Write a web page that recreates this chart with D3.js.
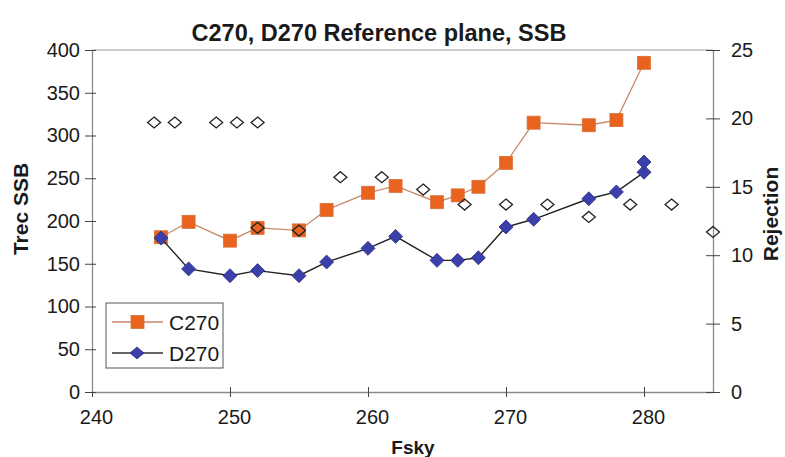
<!DOCTYPE html>
<html>
<head>
<meta charset="utf-8">
<script src="https://cdn.jsdelivr.net/npm/d3@7"></script>
<style>
  html, body { margin: 0; padding: 0; background: #fff; }
  svg { display: block; font-family: "Liberation Sans", Arial, sans-serif; }
</style>
</head>
<body>
<svg id="chart" width="785" height="457"></svg>
<script>
// Receiver noise temperature (SSB) versus sky frequency, two units
const c270Freq = [245, 247, 250, 252, 255, 257, 260, 262, 265, 266.5, 268, 270, 272, 276, 278, 280];
const c270Trec = [181, 199, 177, 192, 189, 213, 233, 241, 222, 230, 240, 268, 315, 312, 318, 385];

const d270Freq = [245, 247, 250, 252, 255, 257, 260, 262, 265, 266.5, 268, 270, 272, 276, 278, 280, 280];
const d270Trec = [180, 144, 136, 142, 136, 152, 168, 182, 154, 154, 157, 193, 202, 226, 234, 257, 269];

// Sideband rejection (dB), right axis
const rejFreq = [244.5, 246, 249, 250.5, 252, 252, 255, 258, 261, 264, 267, 270, 273, 276, 279, 282, 285];
const rejValue = [19.7, 19.7, 19.7, 19.7, 19.7, 12.0, 11.8, 15.7, 15.7, 14.8, 13.7, 13.7, 13.7, 12.8, 13.7, 13.7, 11.7];

const xTicks = [240, 250, 260, 270, 280];
const yLeftTicks = [0, 50, 100, 150, 200, 250, 300, 350, 400];
const yRightTicks = [0, 5, 10, 15, 20, 25];

const svg = d3.select("#chart");
const plotLeft = 92, plotRight = 713, plotTop = 50, plotBottom = 392;

const x = d3.scaleLinear().domain([240, 285]).range([plotLeft, plotRight]);
const yL = d3.scaleLinear().domain([0, 400]).range([plotBottom, plotTop]);
const yR = d3.scaleLinear().domain([0, 25]).range([plotBottom, plotTop]);

const axisColor = "#8a8a8a";
const textColor = "#1a1a1a";
const tickFont = 20;

// top frame line
svg.append("line")
  .attr("x1", plotLeft).attr("x2", plotRight).attr("y1", plotTop).attr("y2", plotTop)
  .attr("stroke", "#9a9a9a").attr("stroke-width", 1.2);

function styleAxis(g) {
  g.select(".domain").attr("stroke", axisColor).attr("stroke-width", 1.3);
  g.selectAll(".tick line").attr("stroke", "#444").attr("stroke-width", 1);
  g.selectAll(".tick text").attr("fill", textColor).attr("font-size", tickFont);
}

// bottom axis, ticks crossing the line
const gx = svg.append("g").attr("transform", `translate(0,${plotBottom})`)
  .call(d3.axisBottom(x).tickValues(xTicks).tickSizeOuter(0).tickSizeInner(5).tickPadding(13));
styleAxis(gx);
gx.selectAll(".tick line").attr("y1", -5);
gx.selectAll(".tick text").attr("dx", 4);

const gl = svg.append("g").attr("transform", `translate(${plotLeft},0)`)
  .call(d3.axisLeft(yL).tickValues(yLeftTicks).tickSizeOuter(0).tickSizeInner(7).tickPadding(5));
styleAxis(gl);
gl.selectAll(".tick line").attr("x2", 4).attr("x1", -7);

const gr = svg.append("g").attr("transform", `translate(${plotRight},0)`)
  .call(d3.axisRight(yR).tickValues(yRightTicks).tickSizeOuter(0).tickSizeInner(7).tickPadding(11));
styleAxis(gr);
gr.selectAll(".tick line").attr("x1", -7).attr("x2", 7);

// titles
svg.append("text").attr("x", 379).attr("y", 41).attr("text-anchor", "middle")
  .attr("font-size", 23.5).attr("font-weight", "bold").attr("fill", textColor)
  .text("C270, D270 Reference plane, SSB");
svg.append("text").attr("x", 413).attr("y", 454).attr("text-anchor", "middle")
  .attr("font-size", 19).attr("font-weight", "bold").attr("fill", textColor)
  .text("Fsky");
svg.append("text").attr("transform", "translate(28,209) rotate(-90)")
  .attr("text-anchor", "middle").attr("font-size", 21).attr("font-weight", "bold").attr("fill", textColor)
  .text("Trec SSB");
svg.append("text").attr("transform", "translate(778,214) rotate(-90)")
  .attr("text-anchor", "middle").attr("font-size", 21).attr("font-weight", "bold").attr("fill", textColor)
  .text("Rejection");

const c270 = c270Freq.map((f, i) => [f, c270Trec[i]]);
const d270 = d270Freq.map((f, i) => [f, d270Trec[i]]);
const rej = rejFreq.map((f, i) => [f, rejValue[i]]);

const lineL = d3.line().x(d => x(d[0])).y(d => yL(d[1]));

const orange = "#e8641e";
const blue = "#3b3faa";
const diamond = (w, h) => `M0,${-h} L${w},0 L0,${h} L${-w},0 Z`;

// C270 series
svg.append("path").datum(c270).attr("d", lineL)
  .attr("fill", "none").attr("stroke", "#c98a6a").attr("stroke-width", 1.3);
svg.append("g").selectAll("rect").data(c270).join("rect")
  .attr("x", d => x(d[0]) - 6.5).attr("y", d => yL(d[1]) - 6.5)
  .attr("width", 13).attr("height", 13)
  .attr("fill", orange).attr("stroke", "#d8703a").attr("stroke-width", 0.8);

// D270 series
svg.append("path").datum(d270).attr("d", lineL)
  .attr("fill", "none").attr("stroke", "#222").attr("stroke-width", 1.4);
svg.append("g").selectAll("path").data(d270).join("path")
  .attr("transform", d => `translate(${x(d[0])},${yL(d[1])})`)
  .attr("d", diamond(7, 7))
  .attr("fill", blue).attr("stroke", "#2a2e80").attr("stroke-width", 0.8);

// Rejection markers, open diamonds without a connecting line
svg.append("g").selectAll("path").data(rej).join("path")
  .attr("transform", d => `translate(${x(d[0])},${yR(d[1])})`)
  .attr("d", diamond(6.5, 5.5))
  .attr("fill", "none").attr("stroke", "#222").attr("stroke-width", 1.3);

// legend
const lg = svg.append("g");
lg.append("rect").attr("x", 106).attr("y", 303).attr("width", 117).attr("height", 65)
  .attr("fill", "#fff").attr("stroke", "#555").attr("stroke-width", 1);
lg.append("line").attr("x1", 112).attr("x2", 163).attr("y1", 322).attr("y2", 322)
  .attr("stroke", "#c98a6a").attr("stroke-width", 1.3);
lg.append("rect").attr("x", 131).attr("y", 315.5).attr("width", 13).attr("height", 13)
  .attr("fill", orange).attr("stroke", "#d8703a").attr("stroke-width", 0.8);
lg.append("text").attr("x", 169).attr("y", 330).attr("font-size", 21).attr("fill", textColor).text("C270");
lg.append("line").attr("x1", 112).attr("x2", 163).attr("y1", 353).attr("y2", 353)
  .attr("stroke", "#333").attr("stroke-width", 1.3);
lg.append("path").attr("transform", "translate(137,353)").attr("d", diamond(7, 6))
  .attr("fill", blue).attr("stroke", "#2a2e80").attr("stroke-width", 0.8);
lg.append("text").attr("x", 169).attr("y", 361).attr("font-size", 21).attr("fill", textColor).text("D270");
</script>
</body>
</html>
